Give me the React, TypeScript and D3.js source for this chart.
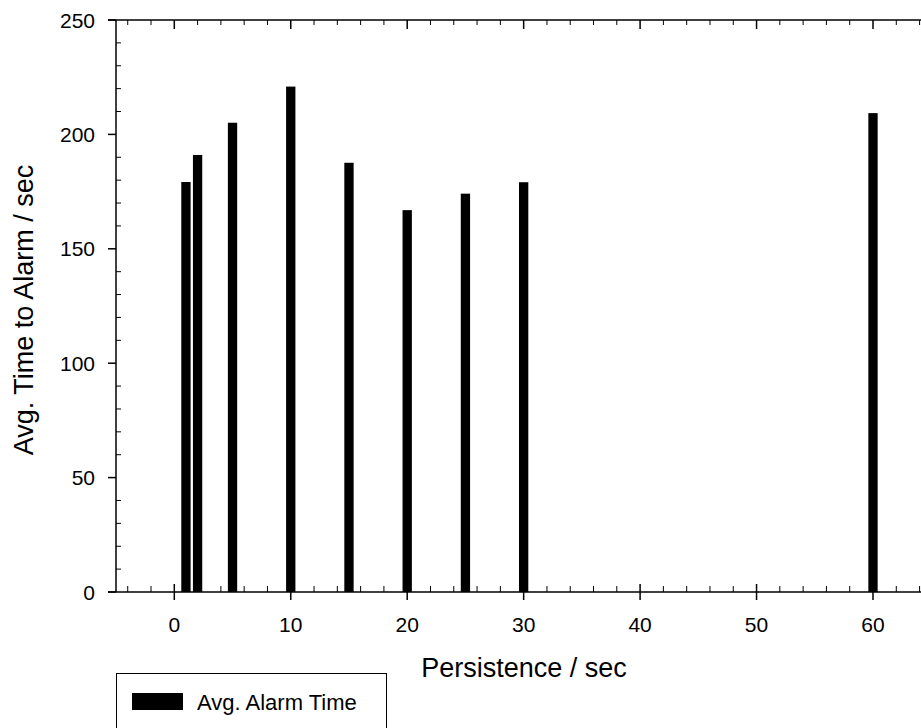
import React from "react";
import * as d3 from "d3";

const persistence = [1, 2, 5, 10, 15, 20, 25, 30, 60];
const alarmTime = [179.2, 191, 205.1, 220.9, 187.6, 166.9, 174.1, 179.1, 209.3];
const xTicks = [0, 10, 20, 30, 40, 50, 60];
const yTicks = [0, 50, 100, 150, 200, 250];
const xTitle = "Persistence / sec";
const yTitle = "Avg. Time to Alarm / sec";
const legendLabel = "Avg. Alarm Time";

export default function App() {
  const W = 921, H = 728;
  const left = 116, top = 20, bottom = 592;
  const x = d3.scaleLinear().domain([0, 60]).range([174.3, 873]);
  const y = d3.scaleLinear().domain([0, 250]).range([bottom, top]);
  const right = W + 2;
  const xMinor = d3.range(-4, 65, 2).filter((v) => v % 10 !== 0);
  const yMinor = d3.range(10, 250, 10).filter((v) => v % 50 !== 0);
  const barW = x(0.8) - x(0);
  const font = "'Liberation Sans', Arial, sans-serif";
  return (
    <svg width={W} height={H} style={{ position: "absolute", left: 0, top: 0 }} fontFamily={font}>
      <rect width={W} height={H} fill="#fff" />
      {persistence.map((p, i) => (
        <rect key={i} x={x(p) - barW / 2} y={y(alarmTime[i])} width={barW} height={bottom - y(alarmTime[i])} fill="#000" />
      ))}
      <line x1={left} x2={left} y1={top} y2={bottom} stroke="#000" strokeWidth={1.5} />
      <line x1={left - 8} x2={right} y1={bottom} y2={bottom} stroke="#000" strokeWidth={1.5} />
      <line x1={left - 8} x2={right} y1={top} y2={top} stroke="#000" strokeWidth={1.5} />
      {yTicks.map((t) => (
        <g key={t}>
          <line x1={left - 8} x2={left} y1={y(t)} y2={y(t)} stroke="#000" strokeWidth={1.5} />
          <text x={95} y={y(t)} dy="0.36em" textAnchor="end" fontSize={21}>{t}</text>
        </g>
      ))}
      {yMinor.map((t) => (
        <line key={t} x1={left} x2={left + 5} y1={y(t)} y2={y(t)} stroke="#000" strokeWidth={1} />
      ))}
      {xTicks.map((t) => (
        <g key={t}>
          <line x1={x(t)} x2={x(t)} y1={bottom - 8} y2={bottom + 8} stroke="#000" strokeWidth={1.5} />
          <line x1={x(t)} x2={x(t)} y1={top} y2={top + 9} stroke="#000" strokeWidth={1.5} />
          <text x={x(t)} y={632} textAnchor="middle" fontSize={21}>{t}</text>
        </g>
      ))}
      {xMinor.map((t) => (
        <g key={t}>
          <line x1={x(t)} x2={x(t)} y1={bottom - 6} y2={bottom} stroke="#000" strokeWidth={1} />
          <line x1={x(t)} x2={x(t)} y1={top} y2={top + 5} stroke="#000" strokeWidth={1} />
        </g>
      ))}
      <text x={524} y={677} textAnchor="middle" fontSize={27}>{xTitle}</text>
      <text transform={`translate(23.5,${(top + bottom) / 2 + 4}) rotate(-90)`} textAnchor="middle" dy="0.35em" fontSize={27}>{yTitle}</text>
      <rect x={116.5} y={673.5} width={270} height={70} fill="#fff" stroke="#000" strokeWidth={1} />
      <rect x={132} y={693} width={51} height={17} fill="#000" />
      <text x={197} y={702} dy="0.36em" fontSize={22}>{legendLabel}</text>
    </svg>
  );
}
